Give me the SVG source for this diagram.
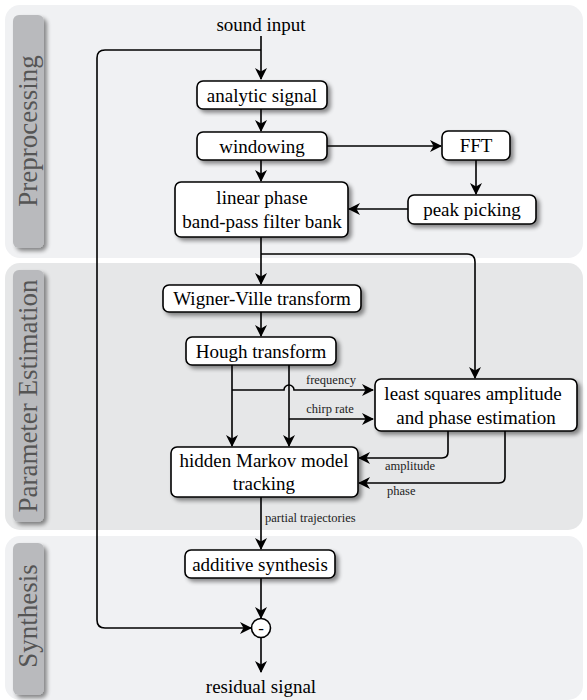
<svg xmlns="http://www.w3.org/2000/svg" width="587" height="700" viewBox="0 0 587 700">
<defs>
<filter id="sh" x="-20%" y="-30%" width="150%" height="180%">
<feGaussianBlur in="SourceAlpha" stdDeviation="2"/>
<feOffset dx="3" dy="3" result="b"/>
<feComponentTransfer><feFuncA type="linear" slope="0.45"/></feComponentTransfer>
<feMerge><feMergeNode/><feMergeNode in="SourceGraphic"/></feMerge>
</filter>
<marker id="ah" viewBox="0 0 12 12" refX="11" refY="6" markerWidth="12" markerHeight="12" markerUnits="userSpaceOnUse" orient="auto">
<path d="M0,0 L12,6 L0,12 L3.5,6 Z" fill="#000"/>
</marker>
</defs>
<style>
.tab{fill:#b9babd}
.box{fill:#fff;stroke:#000;stroke-width:1.6}
.con{fill:none;stroke:#000;stroke-width:1.6}
</style>
<rect width="587" height="700" fill="#fff"/>
<g id="panel-preprocessing">
<rect x="5" y="5" width="578" height="253" rx="15" fill="#f0f1f3"/>
<rect class="tab" x="13" y="15" width="31" height="233" rx="6" filter="url(#sh)"/>
<text style="font-family:'Liberation Serif',serif;font-size:27px;fill:#555" text-anchor="middle" transform="translate(37,131) rotate(-90)">Preprocessing</text>
</g>
<g id="panel-parameter">
<rect x="5" y="263" width="578" height="267" rx="15" fill="#e6e7e8"/>
<rect class="tab" x="13" y="270" width="31" height="252" rx="6" filter="url(#sh)"/>
<text style="font-family:'Liberation Serif',serif;font-size:27px;fill:#555" text-anchor="middle" transform="translate(37,396) rotate(-90)">Parameter Estimation</text>
</g>
<g id="panel-synthesis">
<rect x="5" y="536" width="578" height="164" rx="15" fill="#f0f1f3"/>
<rect class="tab" x="13" y="543" width="31" height="152" rx="6" filter="url(#sh)"/>
<text style="font-family:'Liberation Serif',serif;font-size:27px;fill:#555" text-anchor="middle" transform="translate(37,616) rotate(-90)">Synthesis</text>
</g>
<g id="connectors">
<path class="con" d="M261,36 V79" marker-end="url(#ah)"/>
<path class="con" d="M261,50 H105 Q97,50 97,58 V620 Q97,628 105,628 H251" marker-end="url(#ah)"/>
<path class="con" d="M261,109 V131" marker-end="url(#ah)"/>
<path class="con" d="M261,160 V181" marker-end="url(#ah)"/>
<path class="con" d="M327,146 H441" marker-end="url(#ah)"/>
<path class="con" d="M476,160 V194" marker-end="url(#ah)"/>
<path class="con" d="M408,209 H349" marker-end="url(#ah)"/>
<path class="con" d="M261,237 V284" marker-end="url(#ah)"/>
<path class="con" d="M261,254 H467 Q475,254 475,262 V378" marker-end="url(#ah)"/>
<path class="con" d="M261,312 V336" marker-end="url(#ah)"/>
<path class="con" d="M232,365 V446" marker-end="url(#ah)"/>
<path class="con" d="M289,365 V446" marker-end="url(#ah)"/>
<path class="con" d="M232,390 H284 A5,5 0 0 1 294,390 H373" marker-end="url(#ah)"/>
<path class="con" d="M289,419 H373" marker-end="url(#ah)"/>
<path class="con" d="M448,431 V452 Q448,458 442,458 H359" marker-end="url(#ah)"/>
<path class="con" d="M505,431 V477 Q505,483 499,483 H359" marker-end="url(#ah)"/>
<path class="con" d="M261,497 V549" marker-end="url(#ah)"/>
<path class="con" d="M261,578 V618" marker-end="url(#ah)"/>
<path class="con" d="M261,637 V672" marker-end="url(#ah)"/>
<text style="font-family:'Liberation Serif',serif;font-size:12.5px;fill:#222" x="331" y="384" text-anchor="middle">frequency</text>
<text style="font-family:'Liberation Serif',serif;font-size:12.5px;fill:#222" x="330" y="413" text-anchor="middle">chirp rate</text>
<text style="font-family:'Liberation Serif',serif;font-size:12.5px;fill:#222" x="385" y="470">amplitude</text>
<text style="font-family:'Liberation Serif',serif;font-size:12.5px;fill:#222" x="387" y="495">phase</text>
<text style="font-family:'Liberation Serif',serif;font-size:12.5px;fill:#222" x="265" y="522">partial trajectories</text>
</g>
<g id="sound-input"><text style="font-family:'Liberation Serif',serif;font-size:19px" text-anchor="middle" x="261" y="31">sound input</text></g>
<g id="analytic-signal"><rect class="box" x="197" y="81" width="130" height="28" rx="6" filter="url(#sh)"/><text style="font-family:'Liberation Serif',serif;font-size:19px" text-anchor="middle" x="262" y="101.5">analytic signal</text></g>
<g id="windowing"><rect class="box" x="197" y="132" width="130" height="28" rx="6" filter="url(#sh)"/><text style="font-family:'Liberation Serif',serif;font-size:19px" text-anchor="middle" x="262" y="152.5">windowing</text></g>
<g id="filter-bank"><rect class="box" x="175" y="182" width="173" height="55" rx="6" filter="url(#sh)"/><text style="font-family:'Liberation Serif',serif;font-size:19px" text-anchor="middle" x="262" y="204">linear phase</text><text style="font-family:'Liberation Serif',serif;font-size:19px" text-anchor="middle" x="262" y="228">band-pass filter bank</text></g>
<g id="fft"><rect class="box" x="442" y="131" width="68" height="29" rx="6" filter="url(#sh)"/><text style="font-family:'Liberation Serif',serif;font-size:19px" text-anchor="middle" x="476" y="152">FFT</text></g>
<g id="peak-picking"><rect class="box" x="408" y="195" width="128" height="29" rx="6" filter="url(#sh)"/><text style="font-family:'Liberation Serif',serif;font-size:19px" text-anchor="middle" x="472" y="216">peak picking</text></g>
<g id="wigner-ville"><rect class="box" x="163" y="285" width="198" height="27" rx="6" filter="url(#sh)"/><text style="font-family:'Liberation Serif',serif;font-size:19px" text-anchor="middle" x="262" y="305">Wigner-Ville transform</text></g>
<g id="hough"><rect class="box" x="186" y="337" width="150" height="28" rx="6" filter="url(#sh)"/><text style="font-family:'Liberation Serif',serif;font-size:19px" text-anchor="middle" x="261" y="357.5">Hough transform</text></g>
<g id="least-squares"><rect class="box" x="375" y="379" width="202" height="52" rx="6" filter="url(#sh)"/><text style="font-family:'Liberation Serif',serif;font-size:19px" text-anchor="middle" x="473" y="400">least squares amplitude</text><text style="font-family:'Liberation Serif',serif;font-size:19px" text-anchor="middle" x="476" y="424">and phase estimation</text></g>
<g id="hmm"><rect class="box" x="171" y="447" width="187" height="50" rx="6" filter="url(#sh)"/><text style="font-family:'Liberation Serif',serif;font-size:19px" text-anchor="middle" x="264" y="467">hidden Markov model</text><text style="font-family:'Liberation Serif',serif;font-size:19px" text-anchor="middle" x="264" y="490">tracking</text></g>
<g id="additive-synthesis"><rect class="box" x="185" y="550" width="150" height="28" rx="6" filter="url(#sh)"/><text style="font-family:'Liberation Serif',serif;font-size:19px" text-anchor="middle" x="260" y="570.5">additive synthesis</text></g>
<g id="subtract"><circle cx="261" cy="628" r="9.5" fill="#fff" stroke="#000" stroke-width="1.6"/><text style="font-family:'Liberation Serif',serif;font-size:17px" text-anchor="middle" x="261" y="634">-</text></g>
<g id="residual-signal"><text style="font-family:'Liberation Serif',serif;font-size:19px" text-anchor="middle" x="261" y="693">residual signal</text></g>
</svg>
